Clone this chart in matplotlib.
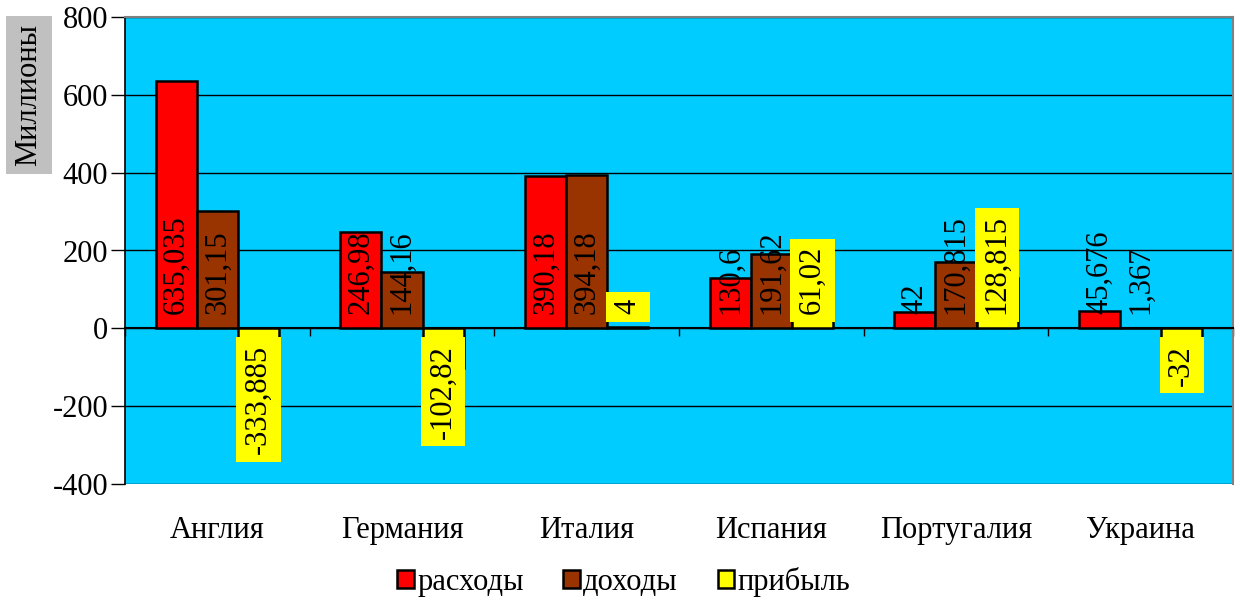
import numpy as np
import matplotlib.pyplot as plt
from matplotlib.transforms import blended_transform_factory

plt.rcParams['font.family'] = ['Liberation Serif', 'DejaVu Serif']
plt.rcParams['axes.unicode_minus'] = False

countries = ['Англия', 'Германия', 'Италия', 'Испания', 'Португалия', 'Украина']
rashody = [635.035, 246.98, 390.18, 130.6, 42, 45.676]
dohody = [301.15, 144.16, 394.18, 191.62, 170.815, 1.367]
pribyl = [-333.885, -102.82, 4, 61.02, 128.815, -32]
rashody_txt = ['635,035', '246,98', '390,18', '130,6', '42', '45,676']
dohody_txt = ['301,15', '144,16', '394,18', '191,62', '170,815', '1,367']
pribyl_txt = ['-333,885', '-102,82', '4', '61,02', '128,815', '-32']

fig = plt.figure(figsize=(12.35, 6.01), dpi=100)
ax = fig.add_axes([125 / 1235, 117 / 601, 1108 / 1235, 467 / 601])
ax.set_facecolor('#00CCFF')

x = np.arange(len(countries))
w = 1 / 4.5
series = [
    (rashody, rashody_txt, '#FF0000', 'расходы', False),
    (dohody, dohody_txt, '#993300', 'доходы', False),
    (pribyl, pribyl_txt, '#FFFF00', 'прибыль', True),
]
fs = 22
for i, (vals, txts, col, name, boxed) in enumerate(series):
    pos = x + (i - 1) * w
    ax.bar(pos, vals, w, color=col, edgecolor='black', linewidth=1.8,
           label=name, zorder=3)
    for px, v, t in zip(pos, vals, txts):
        off = 10 if v >= 0 else -12
        kw = dict(rotation=90, ha='center', va='bottom' if v >= 0 else 'top',
                  fontsize=fs, zorder=5, textcoords='offset points',
                  xytext=(0, off))
        if boxed:
            kw['bbox'] = dict(facecolor='#FFFF00', edgecolor='none', pad=5.5)
        ax.annotate(t, (px, 0), **kw)

ax.set_xlim(-0.5, len(countries) - 0.5)
ax.set_ylim(-400, 800)
ax.set_yticks(np.arange(-400, 801, 200))
ax.yaxis.grid(True, color='black', linewidth=1)
ax.set_axisbelow(True)
ax.tick_params(axis='y', labelsize=fs, direction='out', length=10, width=1, pad=2)

# x axis runs along zero, category names sit below the plot
ax.spines['bottom'].set_position(('data', 0))
ax.spines['bottom'].set_linewidth(1.5)
ax.set_xticks(np.arange(-0.5, len(countries), 1))
ax.set_xticklabels([])
ax.tick_params(axis='x', direction='out', length=6, width=1)
tr = blended_transform_factory(ax.transData, ax.transAxes)
for xi, name in zip(x, countries):
    ax.text(xi, -0.1, name, transform=tr, ha='center', va='center', fontsize=fs)

for s in ('top', 'right'):
    ax.spines[s].set_color('#808080')
    ax.spines[s].set_linewidth(1.5)
ax.spines['left'].set_linewidth(1.2)

fig.text(29 / 1235, 1 - 95 / 601, 'Миллионы', rotation=90, ha='center',
         va='center', fontsize=fs,
         bbox=dict(facecolor='#C0C0C0', edgecolor='none', pad=6))

fig.legend(loc='center', bbox_to_anchor=(0.505, 1 - 582 / 601), ncol=3,
           frameon=False, fontsize=fs, handlelength=0.55, handleheight=0.55,
           handletextpad=0.1, columnspacing=1.3)

fig.savefig('out.png', dpi=100)
